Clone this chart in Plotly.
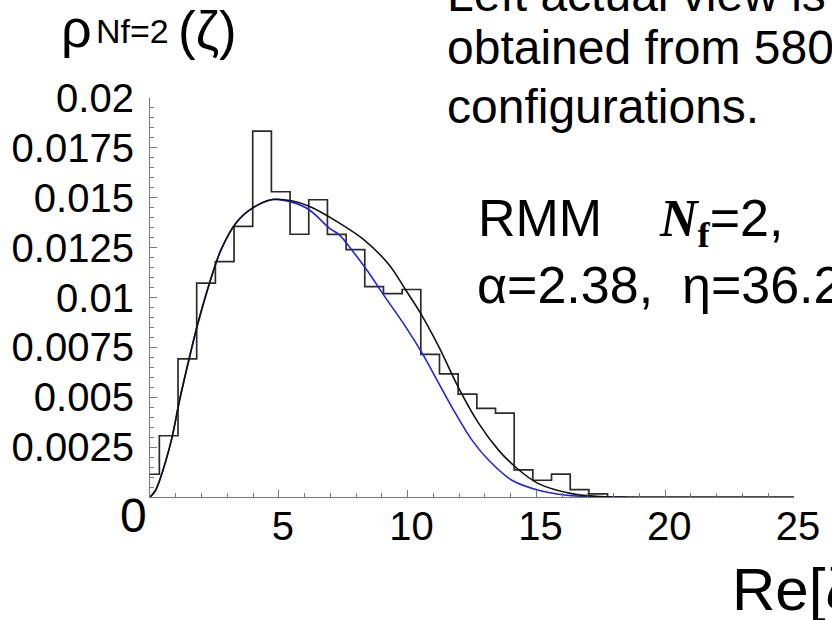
import plotly.graph_objects as go

# ---------------- data ----------------
bin_width = 0.725
bin_centers = [0.0, 0.725, 1.45, 2.175, 2.9, 3.625, 4.35, 5.075, 5.8, 6.525,
               7.25, 7.975, 8.7, 9.425, 10.15, 10.875, 11.6, 12.325, 13.05,
               13.775, 14.5, 15.225, 15.95, 16.675, 17.4]
hist_heights = [0.00114, 0.00307, 0.00692, 0.01072, 0.0118, 0.01357, 0.01834,
                0.0153, 0.01317, 0.0149, 0.01316, 0.0124, 0.01055, 0.01019,
                0.0104, 0.00715, 0.00617, 0.00516, 0.00444, 0.0042, 0.00136,
                0.00084, 0.00115, 0.00037, 0.00016]

black_x = [0, 0.2, 0.375, 0.83, 1.15, 1.54, 1.86, 2.31, 2.76, 3.34, 3.99, 4.76,
           5.5, 6.18, 7.34, 8.31, 9.28, 9.92, 10.5, 11.21, 11.99, 12.76, 13.53,
           14.18, 15.08, 16.37, 17.5, 19, 25]
black_y = [0, 0.0003, 0.00084, 0.00285, 0.00486, 0.00704, 0.00871, 0.01072,
           0.0124, 0.01374, 0.01449, 0.01491, 0.01485, 0.01457, 0.01374, 0.01289,
           0.01164, 0.01039, 0.00922, 0.00754, 0.00545, 0.00369, 0.00235,
           0.00151, 0.00067, 0.00017, 0.00002, 0, 0]

blue_x = [0, 0.2, 0.375, 0.83, 1.15, 1.54, 1.86, 2.31, 2.76, 3.34, 3.99, 4.76,
          5.5, 6.18, 6.96, 7.34, 7.73, 8.12, 8.5, 9.02, 9.92, 10.57, 11.21,
          11.86, 12.5, 13.15, 14.05, 15.08, 16.1, 17.2, 18.5]
blue_y = [0, 0.0003, 0.00084, 0.00285, 0.00486, 0.00704, 0.00871, 0.01072,
          0.0124, 0.01374, 0.01449, 0.01491, 0.01478, 0.0144, 0.01348, 0.01315,
          0.01256, 0.0119, 0.01123, 0.01022, 0.00854, 0.0072, 0.0057, 0.00419,
          0.00285, 0.00184, 0.00084, 0.00034, 0.0001, 0.00001, 0]

x_tickvals = [5, 10, 15, 20, 25]
x_ticktext = ["5", "10", "15", "20", "25"]
y_tickvals = [0.0025, 0.005, 0.0075, 0.01, 0.0125, 0.015, 0.0175, 0.02]
y_ticktext = ["0.0025", "0.005", "0.0075", "0.01", "0.0125", "0.015", "0.0175", "0.02"]

# ---------------- layout geometry ----------------
W, H = 832, 620
L, R, T, B = 150, 36, 98, 123
PW, PH = W - L - R, H - T - B
FONT = "Liberation Sans, Arial, sans-serif"


def px(xp):
    return (xp - L) / PW


def py(yp):
    return (H - B - yp) / PH


# step outline of histogram
step_x = [c - bin_width / 2 for c in bin_centers] + [bin_centers[-1] + bin_width / 2] * 2
step_y = hist_heights + [hist_heights[-1], 0]

fig = go.Figure()
fig.add_trace(go.Scatter(x=step_x, y=step_y, mode="lines", line_shape="hv",
                         line=dict(color="#2b2b2b", width=1.7), hoverinfo="skip"))
fig.add_trace(go.Scatter(x=blue_x, y=blue_y, mode="lines", line_shape="spline",
                         line=dict(color="#2424d8", width=1.6), hoverinfo="skip"))
fig.add_trace(go.Scatter(x=black_x, y=black_y, mode="lines", line_shape="spline",
                         line=dict(color="#111111", width=1.6), hoverinfo="skip"))

axis_col = "#777777"
fig.update_xaxes(range=[0, 25], showgrid=False, zeroline=False, showline=True,
                 linecolor=axis_col, linewidth=1.2, ticks="inside", ticklen=7,
                 tickcolor=axis_col, tickwidth=1, tickvals=x_tickvals,
                 ticktext=x_ticktext, tickfont=dict(family=FONT, size=40, color="#000"),
                 ticklabelstandoff=-6, ticklabelshift=4,
                 minor=dict(dtick=1, tick0=0, ticks="inside", ticklen=4,
                            tickcolor=axis_col, tickwidth=1))
fig.update_yaxes(range=[0, 0.02], showgrid=False, zeroline=False, showline=True,
                 linecolor=axis_col, linewidth=1.2, ticks="inside", ticklen=7,
                 tickcolor=axis_col, tickwidth=1, tickvals=y_tickvals,
                 ticktext=y_ticktext, tickfont=dict(family=FONT, size=40, color="#000"),
                 ticklabelstandoff=7,
                 minor=dict(dtick=0.0005, tick0=0, ticks="inside", ticklen=4,
                            tickcolor=axis_col, tickwidth=1))

annos = []


def add_text(text, x, y, size, xanchor="left"):
    annos.append(dict(text=text, x=px(x), y=py(y), xref="paper", yref="paper",
                      xanchor=xanchor, yanchor="middle", showarrow=False,
                      font=dict(family=FONT, size=size, color="#000")))


nb = "\u00a0"
# y-axis title
add_text("ρ", 59, 28, 54)
add_text("Nf=2", 94, 31, 34)
add_text("(ζ)", 176, 30, 53)
# origin label
add_text("0", 133, 515, 48, xanchor="center")
# x-axis title
add_text("Re[ζ]", 732, 589, 60)
# right text block
add_text("Left actual view is", 446, -5, 48)
add_text("obtained from 580", 446, 48, 48)
add_text("configurations.", 446, 106, 48)
add_text("RMM" + nb * 4 + "<span style='font-family:Liberation Serif'><b><i>N</i><sub>f</sub></b></span>=2,",
         477, 222, 52)
add_text("α=2.38," + nb * 2 + "η=36.2", 476, 285, 52)

fig.update_layout(width=W, height=H, margin=dict(l=L, r=R, t=T, b=B),
                  paper_bgcolor="white", plot_bgcolor="white", showlegend=False,
                  annotations=annos)

fig.write_html("out.html")
